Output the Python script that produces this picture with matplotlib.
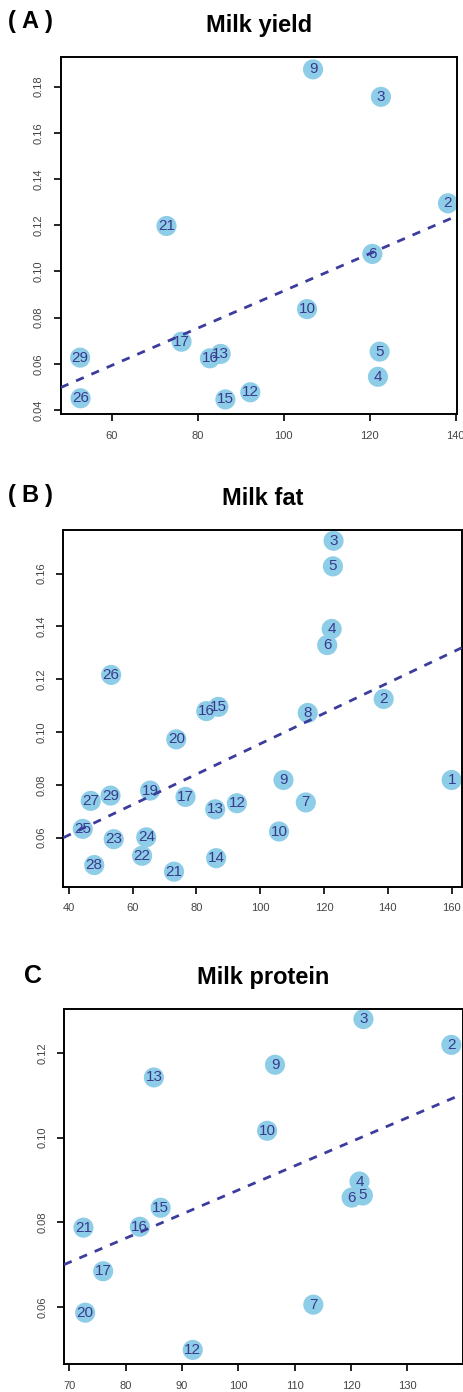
import numpy as np
import matplotlib.pyplot as plt

plt.rcParams['font.family'] = ['Liberation Sans', 'DejaVu Sans']

# Milk yield
ids_a = [9, 3, 2, 21, 6, 10, 17, 16, 13, 29, 26, 15, 12, 5, 4]
x_a = [106.8, 122.6, 138.2, 72.7, 120.6, 105.4, 76.2, 82.8, 85.3, 52.6, 52.7, 86.4, 92.2, 122.3, 121.9]
y_a = [0.1875, 0.1756, 0.1295, 0.1197, 0.1076, 0.0837, 0.0696, 0.0624, 0.0643, 0.0627, 0.0451, 0.0446, 0.0477, 0.0653, 0.0544]
fit_a = [0.000806, 0.0110]   # slope, intercept

# Milk fat
ids_b = [3, 5, 4, 6, 26, 2, 16, 15, 8, 20, 9, 1, 19, 27, 29, 17, 13, 12, 7, 25, 10, 23, 24, 22, 28, 14, 21]
x_b = [123.0, 122.8, 122.4, 121.0, 53.3, 138.7, 83.1, 86.9, 114.9, 73.7, 107.3, 160.0, 65.5, 46.9, 53.1,
       76.6, 85.9, 92.7, 114.3, 44.4, 105.9, 54.1, 64.3, 63.0, 48.0, 86.2, 73.0]
y_b = [0.1724, 0.1627, 0.1390, 0.1329, 0.1216, 0.1125, 0.1079, 0.1095, 0.1072, 0.0972, 0.0818, 0.0818, 0.0778,
       0.0739, 0.0759, 0.0754, 0.0707, 0.0730, 0.0733, 0.0633, 0.0623, 0.0594, 0.0601, 0.0531, 0.0496, 0.0522, 0.0471]
fit_b = [0.000576, 0.0379]

# Milk protein
ids_c = [3, 2, 9, 13, 10, 4, 6, 5, 15, 21, 16, 17, 20, 7, 12]
x_c = [122.2, 137.8, 106.5, 85.0, 105.1, 121.5, 120.1, 122.1, 86.2, 72.5, 82.5, 76.0, 72.8, 113.3, 91.9]
y_c = [0.1280, 0.1219, 0.1172, 0.1142, 0.1016, 0.0896, 0.0858, 0.0863, 0.0834, 0.0787, 0.0789, 0.0684, 0.0586, 0.0605, 0.0498]
fit_c = [0.000570, 0.0306]

titles = ['Milk yield', 'Milk fat', 'Milk protein']
tags = ['A', 'B', 'C']

dot_col = '#8ecde8'
txt_col = '#3a3a8c'
line_col = '#3c3c9c'

fig = plt.figure(figsize=(4.64, 13.92), dpi=100)

panels = [
    (ids_a, x_a, y_a, fit_a, [0.131, 0.7026, 0.853, 0.2567], (48.1, 140.2), (0.0383, 0.193),
     [60, 80, 100, 120, 140], [0.04, 0.06, 0.08, 0.10, 0.12, 0.14, 0.16, 0.18]),
    (ids_b, x_b, y_b, fit_b, [0.1364, 0.3630, 0.859, 0.2563], (38.3, 163.2), (0.0414, 0.1765),
     [40, 60, 80, 100, 120, 140, 160], [0.06, 0.08, 0.10, 0.12, 0.14, 0.16]),
    (ids_c, x_c, y_c, fit_c, [0.138, 0.0199, 0.859, 0.255], (69.05, 139.8), (0.0464, 0.1303),
     [70, 80, 90, 100, 110, 120, 130], [0.06, 0.08, 0.10, 0.12]),
]

for i, (ids, xs, ys, fit, pos, xl, yl, xt, yt) in enumerate(panels):
    ax = fig.add_axes(pos)
    ax.scatter(xs, ys, s=210, color=dot_col, edgecolors='none', zorder=2)
    for n, xx, yy in zip(ids, xs, ys):
        ax.text(xx, yy, str(n), ha='center', va='center', fontsize=11, color=txt_col, zorder=3)
    ax.axline((0, fit[1]), slope=fit[0], color=line_col, lw=2, ls=(0, (3, 3)), zorder=4)
    ax.set_xlim(xl)
    ax.set_ylim(yl)
    ax.set_xticks(xt)
    ax.set_yticks(yt)
    ax.set_yticklabels(['%.2f' % v for v in yt], rotation=90, va='center')
    ax.tick_params(direction='out', length=5, width=1.2, labelsize=8, labelcolor='#444444', pad=7)
    for sp in ax.spines.values():
        sp.set_linewidth(1.4)
    ax.set_title(titles[i], fontsize=17, fontweight='bold', pad=18)
    top = pos[1] + pos[3]
    ty = top + 0.025
    if i < 2:
        # bracketed tag, spaced out like the original
        fig.text(12 / 464, ty, '(', fontsize=17, fontweight='bold', ha='center', va='center')
        fig.text(30 / 464, ty, tags[i], fontsize=17, fontweight='bold', ha='center', va='center')
        fig.text(49 / 464, ty, ')', fontsize=17, fontweight='bold', ha='center', va='center')
    else:
        fig.text(33 / 464, top + 0.024, tags[i], fontsize=18, fontweight='bold', ha='center', va='center')

fig.savefig('out.png', dpi=100)
